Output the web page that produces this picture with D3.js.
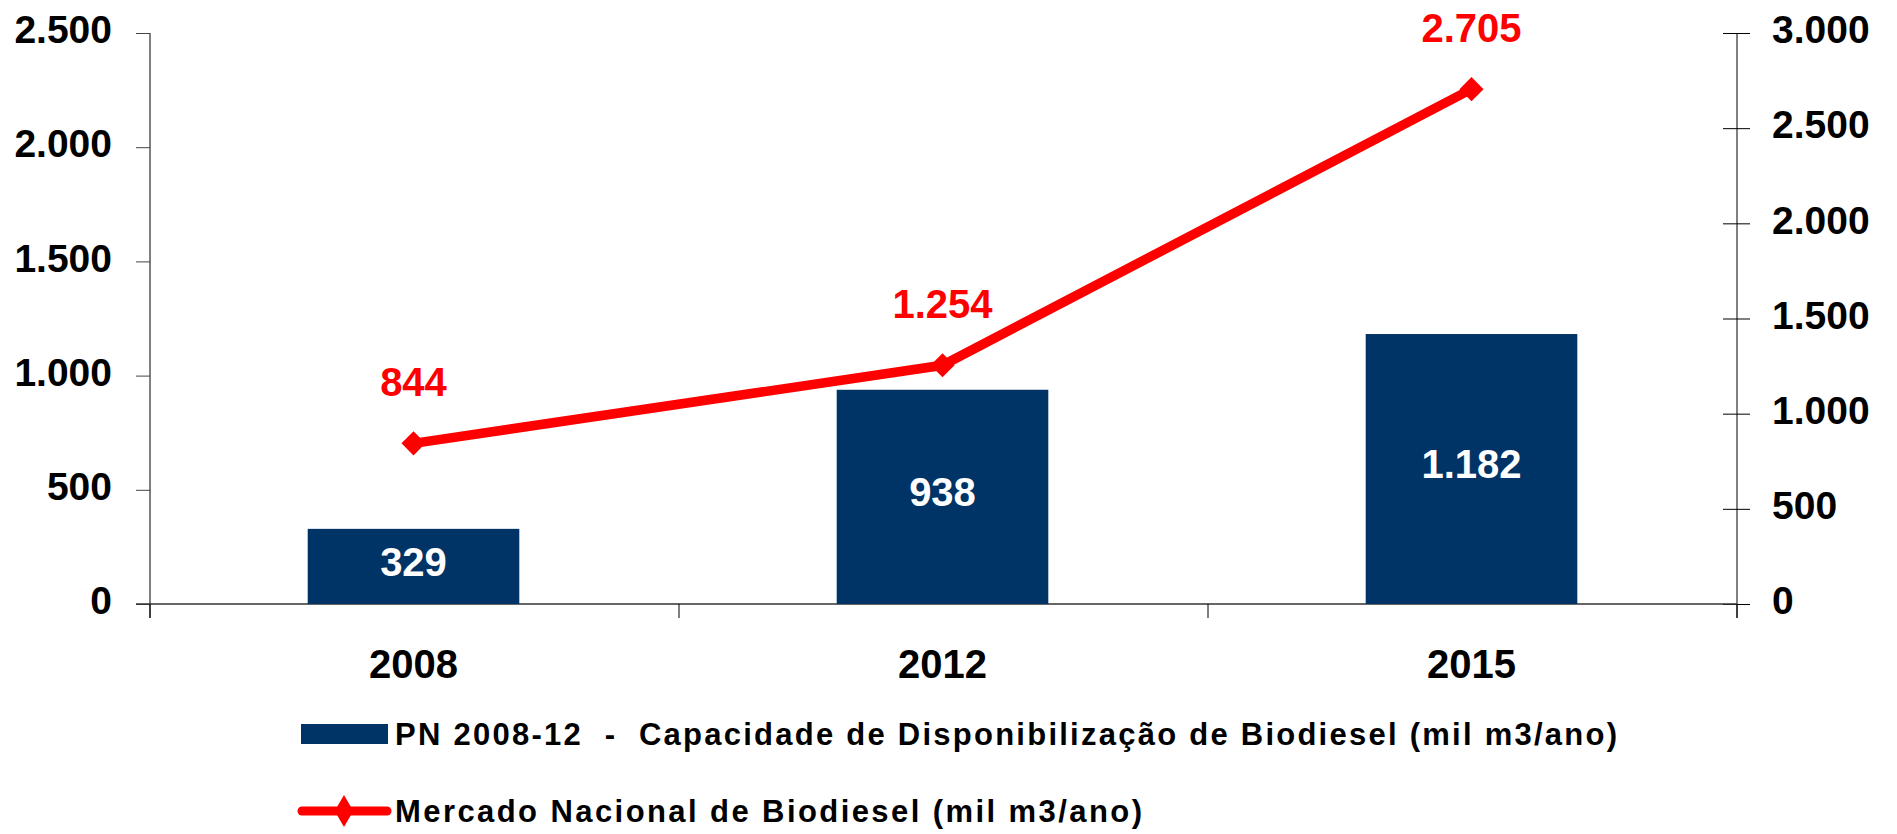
<!DOCTYPE html>
<html>
<head>
<meta charset="utf-8">
<script src="https://cdn.jsdelivr.net/npm/d3@7"></script>
<style>
  body { margin: 0; background: #fff; }
  svg { display: block; font-family: "Liberation Sans", Arial, sans-serif; font-weight: bold; }
  .legend-text { white-space: pre; }
</style>
</head>
<body>
<svg></svg>
<script>
const years = ['2008', '2012', '2015']
const capacidade = [329, 938, 1182]
const mercado = [844, 1254, 2705]
const leftTicks = [0, 500, 1000, 1500, 2000, 2500]
const rightTicks = [0, 500, 1000, 1500, 2000, 2500, 3000]
const legendLabels = [
    'PN 2008-12  -  Capacidade de Disponibilização de Biodiesel (mil m3/ano)',
    'Mercado Nacional de Biodiesel (mil m3/ano)'
]

const width = 1897, height = 834
const plot = { left: 150, right: 1737, top: 33, bottom: 604 }
const barColor = '#003366', lineColor = '#ff0000'

const fmt = v => d3.format(',')(v).replace(/,/g, '.')

const svg = d3.select('svg').attr('width', width).attr('height', height)

const x = d3.scaleBand().domain(years).range([plot.left, plot.right]).padding(0)
const yL = d3.scaleLinear().domain([0, 2500]).range([plot.bottom, plot.top])
const yR = d3.scaleLinear().domain([0, 3000]).range([plot.bottom, plot.top])
const step = x.step()
const barW = step * 0.4
const cx = d => x(d) + step / 2 - 1

// left axis
const gl = svg.append('g')
    .attr('transform', `translate(${plot.left},0)`)
    .call(d3.axisLeft(yL).tickValues(leftTicks).tickFormat(fmt).tickSize(14).tickPadding(24))
gl.select('.domain').attr('stroke', '#000').attr('d', `M0,${plot.top}V${plot.bottom + 14}`)
gl.selectAll('.tick line').attr('stroke', '#444')
gl.selectAll('.tick text').attr('font-size', 39).attr('font-family', null).attr('fill', '#000')
    .attr('dy', '0.25em')

// right axis
const gr = svg.append('g')
    .attr('transform', `translate(${plot.right},0)`)
    .call(d3.axisRight(yR).tickValues(rightTicks).tickFormat(fmt).tickSize(13).tickPadding(22))
gr.select('.domain').attr('stroke', '#000').attr('d', `M0,${plot.top}V${plot.bottom + 14}`)
gr.selectAll('.tick line').attr('x1', -14).attr('stroke', '#000')
gr.selectAll('.tick text').attr('font-size', 39).attr('font-family', null).attr('fill', '#000')
    .attr('dy', '0.25em')

// bottom axis with category separators
const gx = svg.append('g').attr('transform', `translate(0,${plot.bottom})`)
gx.append('line').attr('x1', plot.left - 14).attr('x2', plot.right)
    .attr('stroke', '#333').attr('stroke-width', 1.5)
gx.selectAll('.sep').data(d3.range(years.length + 1)).join('line')
    .attr('class', 'sep')
    .attr('x1', i => plot.left + i * step).attr('x2', i => plot.left + i * step)
    .attr('y1', 0).attr('y2', 14).attr('stroke', '#000')
gx.selectAll('.cat').data(years).join('text')
    .attr('class', 'cat')
    .attr('x', cx).attr('y', 74)
    .attr('text-anchor', 'middle').attr('font-size', 40)
    .text(d => d)

// bars
svg.selectAll('.bar').data(capacidade).join('rect')
    .attr('class', 'bar')
    .attr('x', (d, i) => cx(years[i]) - barW / 2)
    .attr('y', d => yL(d))
    .attr('width', barW)
    .attr('height', d => yL(0) - yL(d))
    .attr('fill', barColor)

svg.selectAll('.bar-label').data(capacidade).join('text')
    .attr('class', 'bar-label')
    .attr('x', (d, i) => cx(years[i]))
    .attr('y', d => (yL(d) + yL(0)) / 2 - 5)
    .attr('dy', '0.36em')
    .attr('text-anchor', 'middle').attr('font-size', 40).attr('fill', '#fff')
    .text(fmt)

// line
const line = d3.line()
    .x((d, i) => cx(years[i]))
    .y(d => yR(d))

svg.append('path').datum(mercado)
    .attr('d', line)
    .attr('fill', 'none').attr('stroke', lineColor).attr('stroke-width', 9.5)

const marker = d3.symbol().type(d3.symbolSquare).size(290)
svg.selectAll('.marker').data(mercado).join('path')
    .attr('class', 'marker')
    .attr('transform', (d, i) => `translate(${cx(years[i])},${yR(d)}) rotate(45)`)
    .attr('d', marker)
    .attr('fill', lineColor)

svg.selectAll('.line-label').data(mercado).join('text')
    .attr('class', 'line-label')
    .attr('x', (d, i) => cx(years[i]))
    .attr('y', d => yR(d) - 62)
    .attr('dy', '0.36em')
    .attr('text-anchor', 'middle').attr('font-size', 40).attr('fill', lineColor)
    .text(fmt)

// legend
const lg = svg.append('g')
lg.append('rect').attr('x', 301).attr('y', 724).attr('width', 87).attr('height', 20).attr('fill', barColor)
lg.append('text').attr('class', 'legend-text').attr('x', 395).attr('y', 745)
    .attr('font-size', 31).attr('textLength', 1222).attr('lengthAdjust', 'spacing')
    .text(legendLabels[0])
lg.append('line').attr('x1', 302).attr('x2', 387).attr('y1', 811).attr('y2', 811)
    .attr('stroke', lineColor).attr('stroke-width', 9).attr('stroke-linecap', 'round')
lg.append('path').attr('transform', 'translate(344,811)')
    .attr('d', d3.symbol().type(d3.symbolDiamond).size(300)).attr('fill', lineColor)
lg.append('text').attr('class', 'legend-text').attr('x', 395).attr('y', 822)
    .attr('font-size', 31).attr('textLength', 747).attr('lengthAdjust', 'spacing')
    .text(legendLabels[1])
</script>
</body>
</html>
